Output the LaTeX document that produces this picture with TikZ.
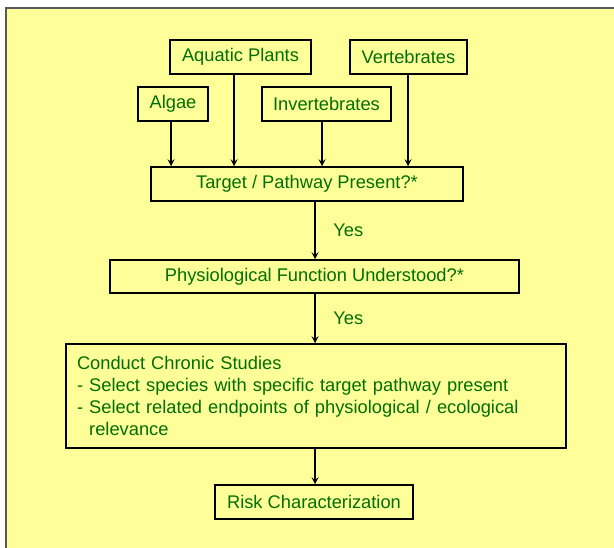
\documentclass[tikz,border=0pt]{standalone}
\usepackage{fontspec}
\setmainfont{Liberation Sans}
\usetikzlibrary{positioning}
\definecolor{paleyellow}{RGB}{255,255,153}
\definecolor{leafgreen}{RGB}{0,110,0}
\tikzstyle{stepbox} = [rectangle, draw=black, line width=1.5pt, fill=paleyellow, text=leafgreen, minimum height=34pt, inner sep=0pt, font=\fontsize{18.3}{22}\selectfont]
\tikzstyle{arrow} = [line width=2pt,->,>=stealth]
\tikzstyle{answer} = [text=leafgreen, font=\fontsize{18.3}{22}\selectfont]

\begin{document}
\begin{tikzpicture}[x=1pt,y=-1pt]
	\useasboundingbox (0,0) rectangle (614,548);
	\fill[white] (0,0) rectangle (614,548);
	\fill[paleyellow] (6,8) rectangle (614,548);
	\draw[gray!70!black, line width=1.4pt] (6,548) -- (6,8) -- (614,8);
	\node (plants) at (240.5, 57) [stepbox, minimum width=141pt] {Aquatic Plants};
	\node (verts) at (408.5, 57) [stepbox, minimum width=117pt] {Vertebrates};
	\node (algae) at (173, 104) [stepbox, minimum width=70pt] {Algae};
	\node (inverts) at (326.5, 104) [stepbox, minimum width=129pt] {Invertebrates};
	\node (target) at (307, 184) [stepbox, minimum width=312pt] {Target / Pathway Present?*};
	\node (physio) at (314.5, 276.5) [stepbox, minimum width=409pt, minimum height=33pt] {Physiological Function Understood?*};
	\node (chronic) at (316, 396) [stepbox, minimum width=500pt, minimum height=104pt, text width=478pt, align=left] {Conduct Chronic Studies\\- Select species with specific target pathway present\\- Select related endpoints of physiological / ecological\\\phantom{- }relevance};
	\node (risk) at (314, 502) [stepbox, minimum width=198pt] {Risk Characterization};
	\draw[arrow] ([xshift=-2pt]algae.south) -- ([xshift=-2pt]algae.south |- target.north);
	\draw[arrow] ([xshift=-6.5pt]plants.south) -- ([xshift=-6.5pt]plants.south |- target.north);
	\draw[arrow] ([xshift=-4.5pt]inverts.south) -- ([xshift=-4.5pt]inverts.south |- target.north);
	\draw[arrow] ([xshift=-0.5pt]verts.south) -- ([xshift=-0.5pt]verts.south |- target.north);
	\draw[arrow] ([xshift=8pt]target.south) -- ([xshift=8pt]target.south |- physio.north) node[answer, midway, right=14pt] {Yes};
	\draw[arrow] ([xshift=0.5pt]physio.south) -- ([xshift=0.5pt]physio.south |- chronic.north) node[answer, midway, right=14pt] {Yes};
	\draw[arrow] ([xshift=-1pt]chronic.south) -- ([xshift=-1pt]chronic.south |- risk.north);
\end{tikzpicture}
\end{document}
